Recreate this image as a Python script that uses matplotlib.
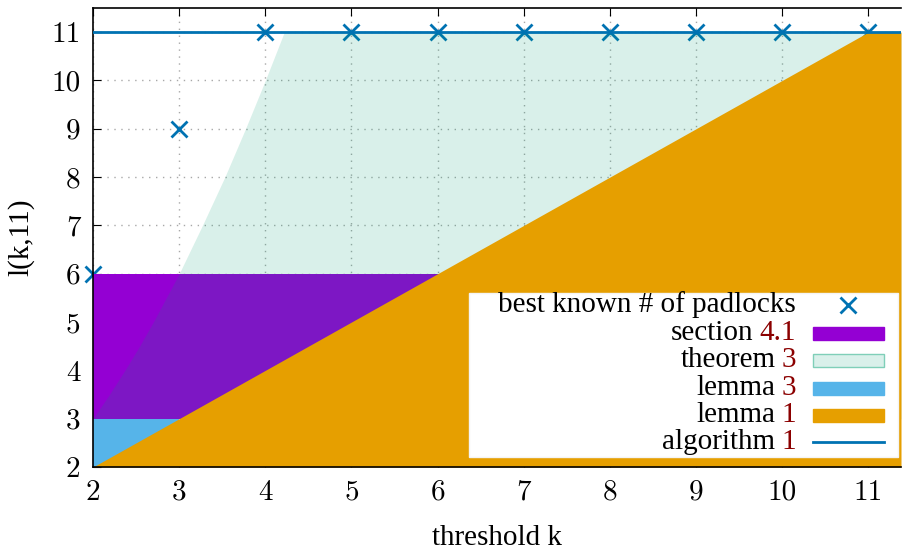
import numpy as np
import matplotlib.pyplot as plt
from matplotlib.patches import Rectangle
from matplotlib.lines import Line2D

# datos
k_best = [2, 3, 4, 5, 6, 7, 8, 9, 10, 11]
l_best = [6, 9, 11, 11, 11, 11, 11, 11, 11, 11]

# seccion 4.1: banda entre 3 y 6
sec_low, sec_high = 3, 6
# teorema 3: borde izquierdo de la region (k en funcion de l)
thm_l = [3, 3.5, 4, 4.5, 5, 5.5, 6, 7, 8, 9, 10, 11]
thm_k = [2.0, 2.19, 2.37, 2.54, 2.70, 2.85, 3.0, 3.27, 3.53, 3.77, 4.0, 4.22]
# lema 3
lem3_k = [2, 3]
lem3_low, lem3_high = 2, 3
# lema 1: cota inferior l >= k (hasta 11)
lem1_k = [2, 11, 11.38]
lem1_l = [2, 11, 11]
# algoritmo 1
alg_l = 11

xmin, xmax = 2, 11.38
ymin, ymax = 2, 11.5

c_blue = '#0072b2'
c_purple = '#9400d3'
c_green = '#009e73'
c_sky = '#56b4e9'
c_orange = '#e69f00'
c_ref = '#8b0000'
fs = 21

W, H = 902, 551
fig = plt.figure(figsize=(W / 100, H / 100), dpi=100)
ax = fig.add_axes([93 / W, 1 - 467 / H, (901 - 93) / W, (467 - 8) / H])

ax.set_axisbelow(True)
ax.grid(True, color='#a8a8a8', linestyle=(0, (1, 4)), linewidth=1)

ax.plot(k_best, l_best, 'x', color=c_blue, markersize=11, mew=2, zorder=1, clip_on=False)
ax.fill_between([xmin, xmax], sec_low, sec_high, color=c_purple, lw=0, zorder=1)
ax.fill_betweenx(thm_l, thm_k, xmax, color=c_green, alpha=0.15, lw=0, zorder=1)
ax.fill_between(lem3_k, lem3_low, lem3_high, color=c_sky, lw=0, zorder=1)
ax.fill_between(lem1_k, 2, lem1_l, color=c_orange, lw=0, zorder=1)
ax.plot([xmin, xmax], [alg_l, alg_l], color=c_blue, lw=2, zorder=3)

ax.set_xlim(xmin, xmax)
ax.set_ylim(ymin, ymax)
ax.set_xticks(range(2, 12))
ax.set_yticks(range(2, 12))
ax.tick_params(direction='in', length=6, top=True, right=False,
               labelsize=fs, pad=9)
for lab in ax.get_xticklabels() + ax.get_yticklabels():
    lab.set_fontfamily('cmr10')
ax.spines['right'].set_visible(False)
for s in ['left', 'bottom', 'top']:
    ax.spines[s].set_linewidth(1.2)

ax.set_xlabel('threshold k', fontsize=fs, family='Liberation Serif', labelpad=14)
ax.set_ylabel('l(k,11)', fontsize=fs, family='Liberation Serif', labelpad=12)

# leyenda hecha a mano (texto alineado a la derecha, numeros en rojo oscuro)
def fx(px):
    return px / W

def fy(py):
    return 1 - py / H

fig.patches.append(Rectangle((fx(469), fy(457)), fx(898) - fx(469), fy(293) - fy(457),
                             transform=fig.transFigure, facecolor='white',
                             edgecolor='#f4f4f4', lw=1, zorder=5))

rows = [('best known # of padlocks', None), ('section ', '4.1'), ('theorem ', '3'),
        ('lemma ', '3'), ('lemma ', '1'), ('algorithm ', '1')]
row_y = [305, 333, 360, 388, 415, 442]
text_right = 796
renderer = fig.canvas.get_renderer()
for (pre, num), py in zip(rows, row_y):
    if num is None:
        fig.text(fx(text_right), fy(py), pre, ha='right', va='center',
                 fontsize=fs, family='Liberation Serif', zorder=6)
        continue
    t = fig.text(fx(text_right), fy(py), num, ha='right', va='center',
                 color=c_ref, fontsize=fs, family='Liberation Serif', zorder=6)
    x0 = t.get_window_extent(renderer).x0
    fig.text(x0 / W - 6 / W, fy(py), pre.strip(), ha='right', va='center',
             fontsize=fs, family='Liberation Serif', zorder=6)

hx0, hx1 = 813, 884
hh = 13
fig.lines.append(Line2D([fx(848)], [fy(row_y[0])], marker='x', color=c_blue,
                        markersize=11, mew=2, transform=fig.transFigure, zorder=7))
for py, fc, ec in [(row_y[1], c_purple, c_purple),
                   (row_y[2], '#d9f0ea', '#7fcfb8'),
                   (row_y[3], c_sky, c_sky),
                   (row_y[4], c_orange, c_orange)]:
    fig.patches.append(Rectangle((fx(hx0), fy(py + hh / 2)), fx(hx1) - fx(hx0), hh / H,
                                 transform=fig.transFigure, facecolor=fc,
                                 edgecolor=ec, lw=1, zorder=7))
fig.lines.append(Line2D([fx(hx0), fx(hx1)], [fy(row_y[5]), fy(row_y[5])], color=c_blue,
                        lw=2, transform=fig.transFigure, zorder=7))

plt.savefig('out.png', dpi=100)
